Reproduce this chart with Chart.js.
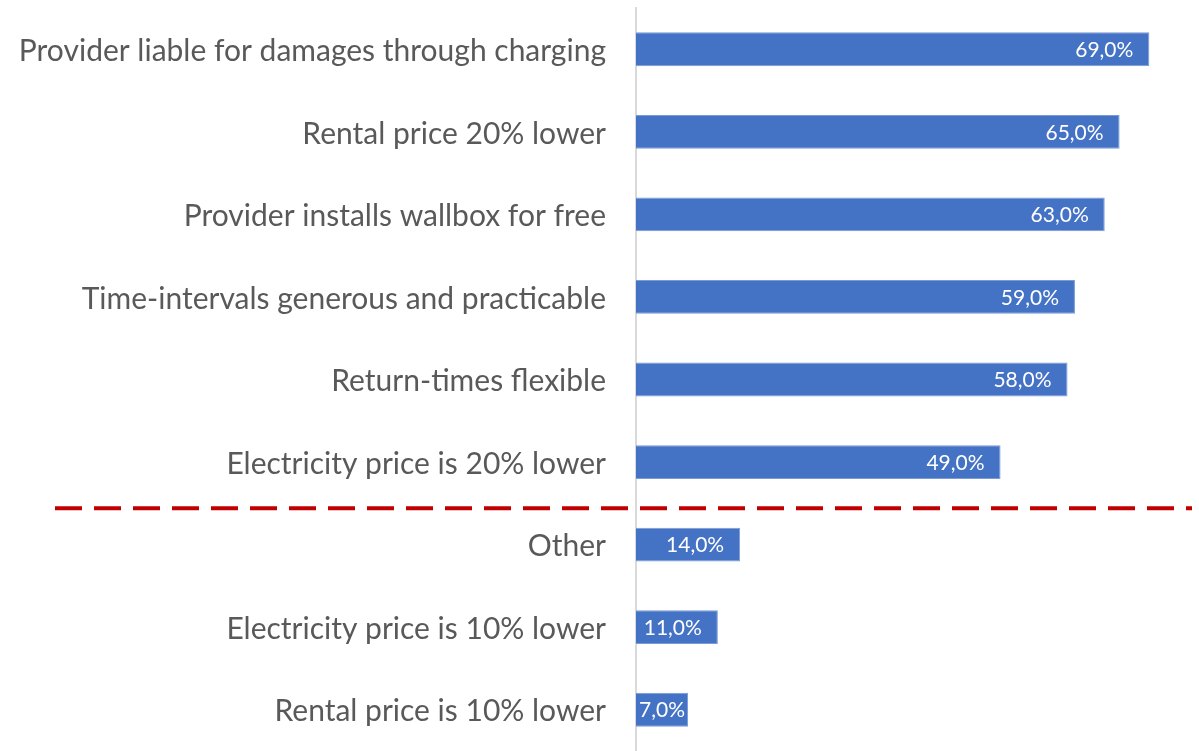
<!DOCTYPE html>
<html>
<head>
<meta charset="utf-8">
<script src="https://cdn.jsdelivr.net/npm/chart.js@4/dist/chart.umd.min.js"></script>
<style>
    html, body { margin: 0; padding: 0; background: #fff; }
    #wrap { width: 1199px; height: 751px; }
</style>
</head>
<body>
<div id="wrap"><canvas id="chart" width="1199" height="751"></canvas></div>
<script>
// ========== Datos ==========

const categorias = [
    'Provider liable for damages through charging',
    'Rental price 20% lower',
    'Provider installs wallbox for free',
    'Time-intervals generous and practicable',
    'Return-times flexible',
    'Electricity price is 20% lower',
    'Other',
    'Electricity price is 10% lower',
    'Rental price is 10% lower',
];
const valores = [69, 65, 63, 59, 58, 49, 14, 11, 7];

// indice despues del cual va la linea roja
const corteTras = 5;

const FUENTE = 'Lato, "Open Sans", sans-serif';

// ========== Plugins ==========

// Etiquetas de categoria (dibujadas aparte para que no metan padding vertical)
const etiquetasEje = {
    id: 'etiquetasEje',
    afterDraw(chart) {
        const y = chart.scales.y;
        const ctx = chart.ctx;
        ctx.save();
        ctx.font = `30px ${FUENTE}`;
        ctx.fillStyle = '#595959';
        ctx.textAlign = 'right';
        ctx.textBaseline = 'middle';
        categorias.forEach((c, i) => {
            ctx.fillText(c, y.right - 30, y.getPixelForValue(i) + 2);
        });
        ctx.restore();
    }
};

const etiquetasBarras = {
    id: 'etiquetasBarras',
    afterDatasetsDraw(chart) {
        const ctx = chart.ctx;
        const meta = chart.getDatasetMeta(0);
        ctx.save();
        ctx.font = `21px ${FUENTE}`;
        ctx.fillStyle = '#ffffff';
        ctx.textBaseline = 'middle';
        ctx.textAlign = 'right';
        meta.data.forEach((bar, i) => {
            const txt = valores[i].toFixed(1).replace('.', ',') + '%';
            const w = ctx.measureText(txt).width;
            const x = Math.max(bar.x - 16, bar.base + 3 + w);
            ctx.fillText(txt, x, bar.y + 1);
        });
        ctx.restore();
    }
};

const lineaCorte = {
    id: 'lineaCorte',
    afterDraw(chart) {
        const y = chart.scales.y;
        const pos = (y.getPixelForValue(corteTras) + y.getPixelForValue(corteTras + 1)) / 2 + 5;
        const ctx = chart.ctx;
        ctx.save();
        ctx.strokeStyle = '#C00000';
        ctx.lineWidth = 4;
        ctx.setLineDash([27, 12]);
        ctx.beginPath();
        ctx.moveTo(55, pos);
        ctx.lineTo(1192, pos);
        ctx.stroke();
        ctx.restore();
    }
};

// ========== Grafica ==========

new Chart(document.getElementById('chart'), {
    type: 'bar',
    data: {
        labels: categorias,
        datasets: [{
            data: valores,
            backgroundColor: '#4472C4',
            borderColor: '#7A9BD6',
            borderWidth: 1,
            categoryPercentage: 1,
            barPercentage: 0.41,
        }]
    },
    options: {
        indexAxis: 'y',
        responsive: false,
        animation: false,
        layout: { padding: { top: 8, right: 5, bottom: 0, left: 0 } },
        plugins: {
            legend: { display: false },
            tooltip: { enabled: false },
        },
        scales: {
            x: {
                display: false,
                min: 0,
                max: 75,
            },
            y: {
                afterFit: s => { s.width = 636; },
                grid: { display: false },
                border: { display: true, color: '#D9D9D9', width: 2 },
                ticks: { display: false },
            },
        },
    },
    plugins: [etiquetasBarras, etiquetasEje, lineaCorte],
});
</script>
</body>
</html>
